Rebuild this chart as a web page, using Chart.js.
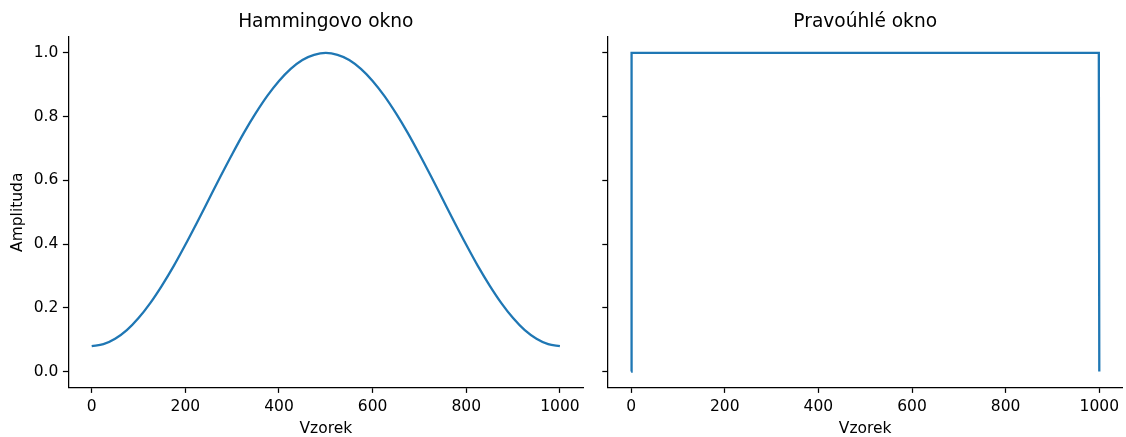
<!DOCTYPE html>
<html>
<head>
<meta charset="utf-8">
<script src="https://cdn.jsdelivr.net/npm/chart.js@4.4.1/dist/chart.umd.min.js"></script>
<style>
  html, body { margin: 0; padding: 0; background: #ffffff; }
  #wrap { position: relative; width: 1126px; height: 437px; }
  #wrap canvas { position: absolute; left: 0; top: 0; }
</style>
</head>
<body>
<div id="wrap">
  <canvas id="hamming" width="1126" height="437"></canvas>
  <canvas id="rect" width="1126" height="437"></canvas>
</div>
<script>
// Hamming window, sampled every 25 samples
const hammingN = [0, 25, 50, 75, 100, 125, 150, 175, 200, 225, 250, 275, 300, 325, 350, 375, 400, 425, 450, 475, 500,
                  525, 550, 575, 600, 625, 650, 675, 700, 725, 750, 775, 800, 825, 850, 875, 900, 925, 950, 975, 1000];
const hammingVals = [0.080, 0.086, 0.103, 0.130, 0.168, 0.215, 0.270, 0.331, 0.398, 0.468, 0.540,
                     0.612, 0.682, 0.749, 0.810, 0.865, 0.912, 0.950, 0.978, 0.994, 1.000,
                     0.994, 0.978, 0.950, 0.912, 0.865, 0.810, 0.749, 0.682, 0.612, 0.540,
                     0.468, 0.398, 0.331, 0.270, 0.215, 0.168, 0.130, 0.103, 0.086, 0.080];

// Rectangular window: zero at both ends, one in between
const rectN = [0, 1, 999, 1000];
const rectVals = [0, 1, 1, 0];

const xTicks = [0, 200, 400, 600, 800, 1000];
const yTicks = [0.0, 0.2, 0.4, 0.6, 0.8, 1.0];

const titles = ['Hammingovo okno', 'Pravoúhlé okno'];
const xLabel = 'Vzorek';
const yLabel = 'Amplituda';

const FONT = "'DejaVu Sans', sans-serif";
const BLUE = '#1f77b4';
const TICK_SIZE = 15.5;
const TITLE_SIZE = 18.6;

function points(xs, ys) {
  return xs.map((x, i) => ({ x: x, y: ys[i] }));
}

// Panel title centred over the plot area rather than the whole canvas
const panelTitle = {
  id: 'panelTitle',
  afterDraw(chart, args, opts) {
    const { ctx, chartArea } = chart;
    ctx.save();
    ctx.font = 'normal ' + TITLE_SIZE + 'px ' + FONT;
    ctx.fillStyle = '#000000';
    ctx.textAlign = 'center';
    ctx.textBaseline = 'alphabetic';
    ctx.fillText(opts.text, (chartArea.left + chartArea.right) / 2, opts.baseline);
    ctx.restore();
  }
};

function makeChart(id, title, xs, ys, opts) {
  return new Chart(document.getElementById(id), {
    type: 'line',
    plugins: [panelTitle],
    data: {
      datasets: [{
        data: points(xs, ys),
        borderColor: BLUE,
        borderWidth: 2.3,
        pointRadius: 0,
        fill: false,
        cubicInterpolationMode: opts.smooth ? 'monotone' : 'default',
        tension: 0
      }]
    },
    options: {
      responsive: false,
      animation: false,
      events: [],
      layout: { padding: { left: 0, right: opts.padRight, top: 37, bottom: 0 } },
      plugins: {
        legend: { display: false },
        tooltip: { enabled: false },
        title: { display: false },
        panelTitle: { text: title, baseline: 27 }
      },
      scales: {
        x: {
          type: 'linear',
          min: -50,
          max: 1050,
          afterBuildTicks: (s) => { s.ticks = xTicks.map(v => ({ value: v })); },
          afterFit: (s) => { s.height = 437 - 387.5; },
          border: { display: true, color: '#000000', width: 1.25 },
          grid: { display: true, drawOnChartArea: false, drawTicks: true, tickLength: 5.4, color: '#000000', tickWidth: 1.25 },
          ticks: {
            color: '#000000',
            padding: 5,
            maxRotation: 0,
            autoSkip: false,
            font: { family: FONT, size: TICK_SIZE },
            callback: (v) => String(v)
          },
          title: {
            display: true,
            text: xLabel,
            color: '#000000',
            font: { family: FONT, size: TICK_SIZE, lineHeight: 1.0 },
            padding: { top: 0, bottom: 0.75 }
          }
        },
        y: {
          type: 'linear',
          min: -0.05,
          max: 1.05,
          afterBuildTicks: (s) => { s.ticks = yTicks.map(v => ({ value: v })); },
          afterFit: (s) => { s.width = opts.yWidth; },
          border: { display: true, color: '#000000', width: 1.25 },
          grid: { display: true, drawOnChartArea: false, drawTicks: true, tickLength: 5.4, color: '#000000', tickWidth: 1.25 },
          ticks: {
            display: opts.showYLabels,
            color: '#000000',
            padding: 4.5,
            autoSkip: false,
            font: { family: FONT, size: TICK_SIZE },
            callback: (v) => Number(v).toFixed(1)
          },
          title: {
            display: opts.showYLabels,
            text: yLabel,
            color: '#000000',
            font: { family: FONT, size: TICK_SIZE, lineHeight: 1.2 },
            padding: { top: 8.7, bottom: 0 }
          }
        }
      }
    }
  });
}

// left panel: plot area from x=68 to x=583
makeChart('hamming', titles[0], hammingN, hammingVals,
          { smooth: true, yWidth: 68.3, padRight: 1126 - 583.3, showYLabels: true });
// right panel: plot area from x=608 to x=1123, shared y range
makeChart('rect', titles[1], rectN, rectVals,
          { smooth: false, yWidth: 607.7, padRight: 1126 - 1122.7, showYLabels: false });
</script>
</body>
</html>
